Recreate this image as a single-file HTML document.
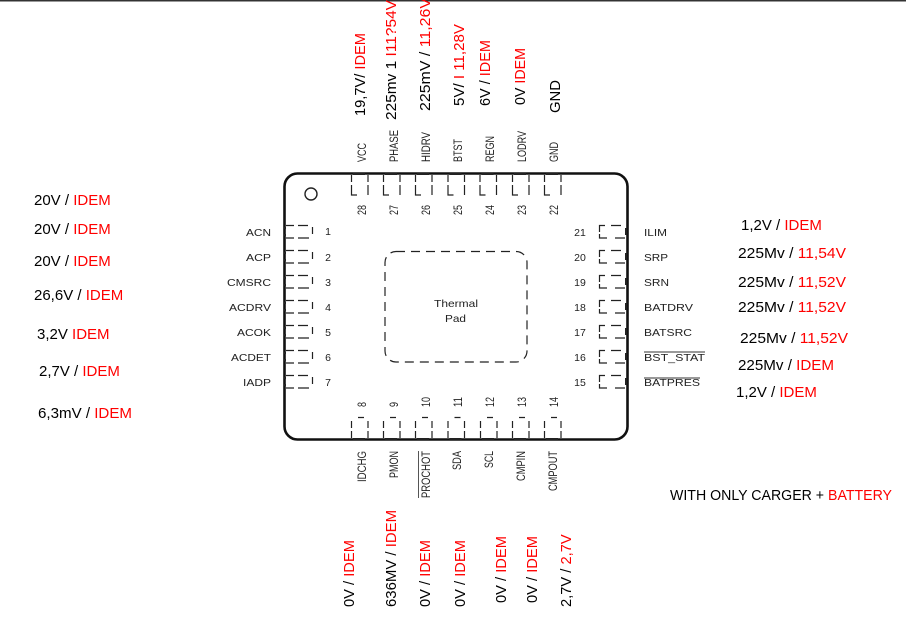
<!DOCTYPE html>
<html>
<head>
<meta charset="utf-8">
<style>
html,body{margin:0;padding:0;background:#fff}
svg{display:block}
text{font-family:"Liberation Sans",sans-serif}
.v{font-size:15px;fill:#000}
.w{font-size:14.7px;fill:#000}
.r{fill:#f00}
.p{font-size:10.5px;fill:#222}
.q{font-size:12px;fill:#222}
.n{font-size:10.5px;fill:#222}
.m{font-size:12px;fill:#222}
.pin{fill:none;stroke:#222;stroke-width:1.2}
</style>
</head>
<body>
<svg width="906" height="621" viewBox="0 0 906 621" xmlns="http://www.w3.org/2000/svg">
<defs>
<g id="t" class="pin"><path d="M0.5 1V8M0.5 11V21H6M17 1V8M17 11V21"/><path d="M2 0H14" stroke-width="2"/></g>
<g id="b" class="pin"><path d="M0.5 21V14M0.5 11V4M7 0.5H13M17 21V14M17 11V4"/><path d="M2 22H14" stroke-width="2"/></g>
<g id="l" class="pin"><path d="M1 0.5H9M13 0.5H23M1 13H9M13 13H24M27.5 2V9"/><path d="M0 2V4M0 9V11" stroke-width="2"/></g>
<g id="r" class="pin"><path d="M0.5 7V0.5H6M12 0.5H22M0.5 9V13H8M16 13H26"/><path d="M27 3V10" stroke-width="2"/></g>
</defs>

<rect x="0" y="0" width="906" height="1.5" fill="#333"/>

<rect x="284.5" y="173.5" width="343" height="266" rx="13" fill="none" stroke="#111" stroke-width="2.6"/>
<circle cx="311" cy="194" r="6" fill="none" stroke="#222" stroke-width="1.4"/>
<rect x="385" y="251.5" width="142" height="110.5" rx="11" fill="none" stroke="#222" stroke-width="1.2" stroke-dasharray="9 6"/>
<text x="434" y="307" font-size="10.5" fill="#222" textLength="44" lengthAdjust="spacingAndGlyphs">Thermal</text>
<text x="445" y="322" font-size="10.5" fill="#222" textLength="21" lengthAdjust="spacingAndGlyphs">Pad</text>

<use href="#t" x="351" y="174"/><use href="#t" x="383" y="174"/><use href="#t" x="415" y="174"/><use href="#t" x="447.500" y="174"/><use href="#t" x="479.500" y="174"/><use href="#t" x="512" y="174"/><use href="#t" x="544" y="174"/>
<use href="#b" x="351" y="417"/><use href="#b" x="383" y="417"/><use href="#b" x="415" y="417"/><use href="#b" x="447.500" y="417"/><use href="#b" x="480" y="417"/><use href="#b" x="512" y="417"/><use href="#b" x="544" y="417"/>
<use href="#l" x="285" y="225"/><use href="#l" x="285" y="250"/><use href="#l" x="285" y="275"/><use href="#l" x="285" y="300"/><use href="#l" x="285" y="325"/><use href="#l" x="285" y="350"/><use href="#l" x="285" y="375"/>
<use href="#r" x="599" y="225"/><use href="#r" x="599" y="250"/><use href="#r" x="599" y="275"/><use href="#r" x="599" y="300"/><use href="#r" x="599" y="325"/><use href="#r" x="599" y="350"/><use href="#r" x="599" y="375"/>

<g class="p" text-anchor="end">
<text x="271" y="236" textLength="25" lengthAdjust="spacingAndGlyphs">ACN</text>
<text x="271" y="261" textLength="25" lengthAdjust="spacingAndGlyphs">ACP</text>
<text x="271" y="286" textLength="44" lengthAdjust="spacingAndGlyphs">CMSRC</text>
<text x="271" y="311" textLength="42" lengthAdjust="spacingAndGlyphs">ACDRV</text>
<text x="271" y="336" textLength="34" lengthAdjust="spacingAndGlyphs">ACOK</text>
<text x="271" y="361" textLength="40" lengthAdjust="spacingAndGlyphs">ACDET</text>
<text x="271" y="386" textLength="28" lengthAdjust="spacingAndGlyphs">IADP</text>
</g>
<g class="p">
<text x="644" y="236" textLength="23" lengthAdjust="spacingAndGlyphs">ILIM</text>
<text x="644" y="261" textLength="24" lengthAdjust="spacingAndGlyphs">SRP</text>
<text x="644" y="286" textLength="25" lengthAdjust="spacingAndGlyphs">SRN</text>
<text x="644" y="311" textLength="49" lengthAdjust="spacingAndGlyphs">BATDRV</text>
<text x="644" y="336" textLength="48" lengthAdjust="spacingAndGlyphs">BATSRC</text>
<text x="644" y="361" textLength="61" lengthAdjust="spacingAndGlyphs">BST_STAT</text>
<text x="644" y="386" textLength="56" lengthAdjust="spacingAndGlyphs">BATPRES</text>
</g>
<path d="M644 352H705M644 378H700" stroke="#333" stroke-width="1"/>

<g class="n" text-anchor="middle">
<text x="328" y="235">1</text><text x="328" y="261">2</text><text x="328" y="286">3</text><text x="328" y="311">4</text><text x="328" y="336">5</text><text x="328" y="361">6</text><text x="328" y="386">7</text>
<text x="580" y="236">21</text><text x="580" y="261">20</text><text x="580" y="286">19</text><text x="580" y="311">18</text><text x="580" y="336">17</text><text x="580" y="361">16</text><text x="580" y="386">15</text>
</g>
<g class="m">
<text transform="translate(366 215) rotate(-90)" textLength="10" lengthAdjust="spacingAndGlyphs">28</text>
<text transform="translate(398 215) rotate(-90)" textLength="10" lengthAdjust="spacingAndGlyphs">27</text>
<text transform="translate(430 215) rotate(-90)" textLength="10" lengthAdjust="spacingAndGlyphs">26</text>
<text transform="translate(462 215) rotate(-90)" textLength="10" lengthAdjust="spacingAndGlyphs">25</text>
<text transform="translate(494 215) rotate(-90)" textLength="10" lengthAdjust="spacingAndGlyphs">24</text>
<text transform="translate(526 215) rotate(-90)" textLength="10" lengthAdjust="spacingAndGlyphs">23</text>
<text transform="translate(558 215) rotate(-90)" textLength="10" lengthAdjust="spacingAndGlyphs">22</text>
<text transform="translate(366 407) rotate(-90)" textLength="5" lengthAdjust="spacingAndGlyphs">8</text>
<text transform="translate(398 407) rotate(-90)" textLength="5" lengthAdjust="spacingAndGlyphs">9</text>
<text transform="translate(430 407) rotate(-90)" textLength="10" lengthAdjust="spacingAndGlyphs">10</text>
<text transform="translate(462 407) rotate(-90)" textLength="10" lengthAdjust="spacingAndGlyphs">11</text>
<text transform="translate(494 407) rotate(-90)" textLength="10" lengthAdjust="spacingAndGlyphs">12</text>
<text transform="translate(526 407) rotate(-90)" textLength="10" lengthAdjust="spacingAndGlyphs">13</text>
<text transform="translate(558 407) rotate(-90)" textLength="10" lengthAdjust="spacingAndGlyphs">14</text>
</g>

<g class="q">
<text transform="translate(366 162) rotate(-90)" textLength="19" lengthAdjust="spacingAndGlyphs">VCC</text>
<text transform="translate(398 162) rotate(-90)" textLength="32" lengthAdjust="spacingAndGlyphs">PHASE</text>
<text transform="translate(430 162) rotate(-90)" textLength="30" lengthAdjust="spacingAndGlyphs">HIDRV</text>
<text transform="translate(462 162) rotate(-90)" textLength="23" lengthAdjust="spacingAndGlyphs">BTST</text>
<text transform="translate(494 162) rotate(-90)" textLength="26" lengthAdjust="spacingAndGlyphs">REGN</text>
<text transform="translate(526 162) rotate(-90)" textLength="31" lengthAdjust="spacingAndGlyphs">LODRV</text>
<text transform="translate(558 162) rotate(-90)" textLength="20" lengthAdjust="spacingAndGlyphs">GND</text>
</g>
<g class="q" text-anchor="end">
<text transform="translate(366 451) rotate(-90)" textLength="31" lengthAdjust="spacingAndGlyphs">IDCHG</text>
<text transform="translate(398 451) rotate(-90)" textLength="27" lengthAdjust="spacingAndGlyphs">PMON</text>
<text transform="translate(430 451) rotate(-90)" textLength="47" lengthAdjust="spacingAndGlyphs">PROCHOT</text>
<text transform="translate(461 451) rotate(-90)" textLength="19" lengthAdjust="spacingAndGlyphs">SDA</text>
<text transform="translate(493 451) rotate(-90)" textLength="17" lengthAdjust="spacingAndGlyphs">SCL</text>
<text transform="translate(525 451) rotate(-90)" textLength="30" lengthAdjust="spacingAndGlyphs">CMPIN</text>
<text transform="translate(557 451) rotate(-90)" textLength="40" lengthAdjust="spacingAndGlyphs">CMPOUT</text>
</g>
<path d="M418.500 451V498" stroke="#555" stroke-width="1"/>

<g class="v">
<text x="34" y="205">20V / <tspan class="r">IDEM</tspan></text>
<text x="34" y="234">20V / <tspan class="r">IDEM</tspan></text>
<text x="34" y="266">20V / <tspan class="r">IDEM</tspan></text>
<text x="34" y="300">26,6V / <tspan class="r">IDEM</tspan></text>
<text x="37" y="339">3,2V <tspan class="r">IDEM</tspan></text>
<text x="39" y="376">2,7V / <tspan class="r">IDEM</tspan></text>
<text x="38" y="418" textLength="94" lengthAdjust="spacingAndGlyphs">6,3mV / <tspan class="r">IDEM</tspan></text>

<text x="741" y="230">1,2V / <tspan class="r">IDEM</tspan></text>
<text x="738" y="258" textLength="108" lengthAdjust="spacingAndGlyphs">225Mv / <tspan class="r">11,54V</tspan></text>
<text x="738" y="287" textLength="108" lengthAdjust="spacingAndGlyphs">225Mv / <tspan class="r">11,52V</tspan></text>
<text x="738" y="312" textLength="108" lengthAdjust="spacingAndGlyphs">225Mv / <tspan class="r">11,52V</tspan></text>
<text x="740" y="343" textLength="108" lengthAdjust="spacingAndGlyphs">225Mv / <tspan class="r">11,52V</tspan></text>
<text x="738" y="370" textLength="96" lengthAdjust="spacingAndGlyphs">225Mv / <tspan class="r">IDEM</tspan></text>
<text x="736" y="397">1,2V / <tspan class="r">IDEM</tspan></text>
<text x="670" y="500" textLength="222" lengthAdjust="spacingAndGlyphs">WITH ONLY CARGER + <tspan class="r">BATTERY</tspan></text>

<text transform="translate(365 116) rotate(-90)" textLength="83" lengthAdjust="spacingAndGlyphs">19,7V/ <tspan class="r">IDEM</tspan></text>
<text transform="translate(396 120) rotate(-90)" textLength="120" lengthAdjust="spacingAndGlyphs">225mv 1 <tspan class="r">I11?54V</tspan></text>
<text transform="translate(430 111) rotate(-90)" textLength="113" lengthAdjust="spacingAndGlyphs">225mV / <tspan class="r">11,26V</tspan></text>
<text transform="translate(464 106) rotate(-90)" textLength="82" lengthAdjust="spacingAndGlyphs">5V/ <tspan class="r">I 11,28V</tspan></text>
<text transform="translate(490 106) rotate(-90)" textLength="66" lengthAdjust="spacingAndGlyphs">6V / <tspan class="r">IDEM</tspan></text>
<text transform="translate(525 105) rotate(-90)" textLength="57" lengthAdjust="spacingAndGlyphs">0V <tspan class="r">IDEM</tspan></text>
<text transform="translate(560 113) rotate(-90)" textLength="33" lengthAdjust="spacingAndGlyphs">GND</text>
</g>
<g class="w">
<text transform="translate(354 607) rotate(-90)">0V / <tspan class="r">IDEM</tspan></text>
<text transform="translate(396 607) rotate(-90)" textLength="97" lengthAdjust="spacingAndGlyphs">636MV / <tspan class="r">IDEM</tspan></text>
<text transform="translate(430 607) rotate(-90)">0V / <tspan class="r">IDEM</tspan></text>
<text transform="translate(465 607) rotate(-90)">0V / <tspan class="r">IDEM</tspan></text>
<text transform="translate(506 603) rotate(-90)">0V / <tspan class="r">IDEM</tspan></text>
<text transform="translate(537 603) rotate(-90)">0V / <tspan class="r">IDEM</tspan></text>
<text transform="translate(571 607) rotate(-90)">2,7V / <tspan class="r">2,7V</tspan></text>
</g>
</svg>
</body>
</html>
